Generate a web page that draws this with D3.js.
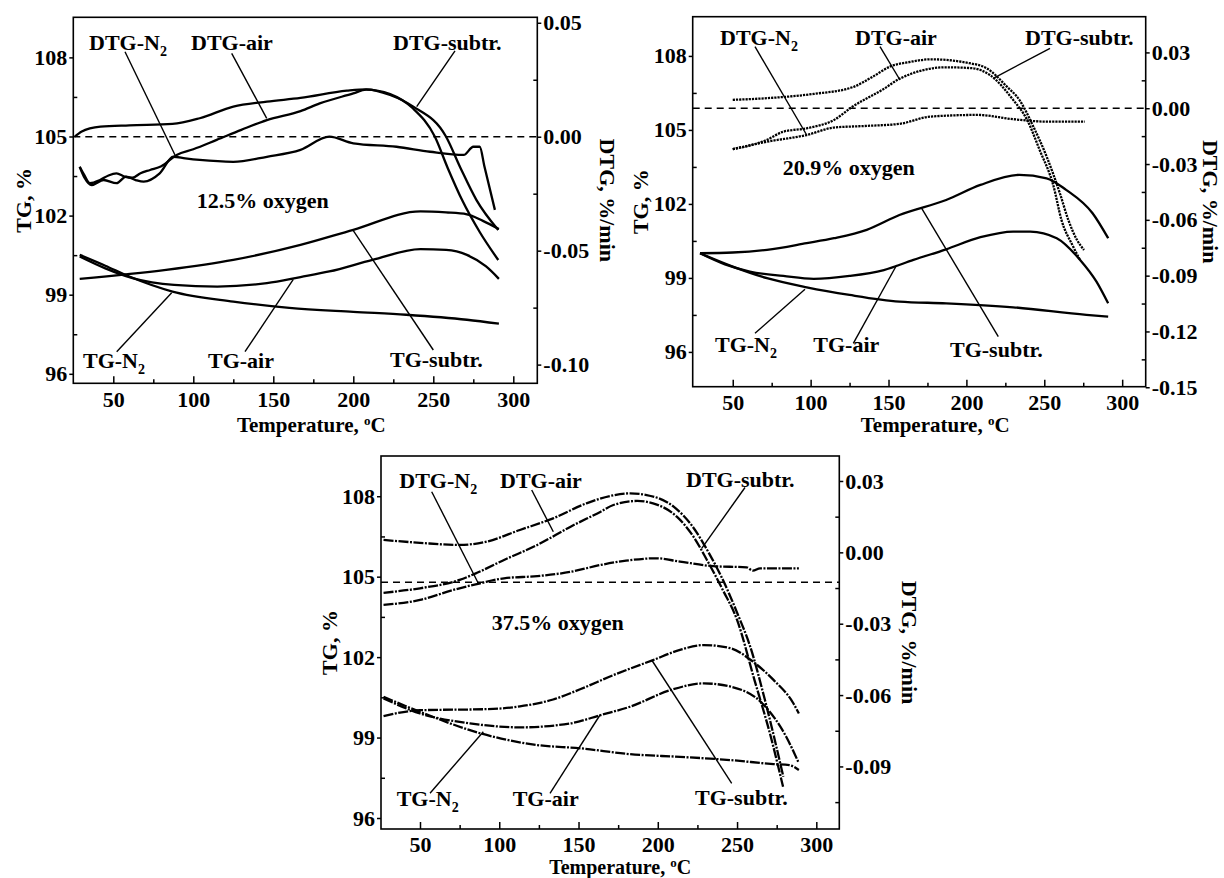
<!DOCTYPE html>
<html>
<head>
<meta charset="utf-8">
<script src="https://cdn.jsdelivr.net/npm/d3@7"></script>
<style>
  body { margin: 0; background: #fff; }
  svg text { font-family: "Liberation Serif", "Times New Roman", serif; font-weight: bold; fill: #000; font-size: 22px; }
</style>
</head>
<body>
<svg id="chart" width="1224" height="878"></svg>
<script>
// ---- data, [temperature °C, value] ----
// 12.5% oxygen
var tgN2_125  = [[29,100.51],[45,100.1],[60,99.69],[87,99.12],[125,98.74],[160,98.5],[200,98.35],[233,98.24],[271,98.05],[291,97.9]];
var tgAir_125 = [[29,100.45],[45,100.0],[62,99.63],[88,99.37],[115,99.31],[146,99.44],[167,99.67],[185,99.88],[212,100.32],[242,100.73],[258,100.7],[271,100.51],[283,100.07],[291,99.6]];
var tgSub_125 = [[29,99.6],[83,99.94],[125,100.32],[167,100.89],[200,101.46],[242,102.16],[258,102.12],[271,102.05],[281,101.8],[291,101.49]];
var dtgN2_125  = [[29,-0.0132],[32,-0.018],[36.5,-0.0212],[44,-0.019],[52,-0.0204],[58,-0.0175],[64,-0.019],[69,-0.0197],[79,-0.0161],[87.5,-0.0088],[95,-0.0095],[104,-0.0102],[125,-0.011],[146,-0.0088],[167,-0.0058],[185,0],[200,-0.0029],[227,-0.0044],[248,-0.0066],[269,-0.008],[275,-0.0044],[279,-0.0044],[282,-0.0132],[288.5,-0.0321]];
var dtgAir_125 = [[29,-0.0132],[32,-0.017],[35.4,-0.0204],[41.7,-0.019],[47,-0.017],[52,-0.0161],[57,-0.0175],[62,-0.018],[67,-0.016],[73,-0.0146],[80,-0.013],[89.6,-0.008],[100,-0.0055],[114.6,-0.0014],[130,0.003],[146,0.0073],[167,0.0112],[179,0.0146],[200,0.019],[208,0.0207],[223,0.0187],[237,0.0126],[251,0],[259,-0.0137],[268,-0.0278],[279,-0.0418],[290.6,-0.0541]];
var dtgSub_125 = [[26,0],[30,0.0022],[42,0.0044],[60,0.005],[87,0.0056],[104,0.0081],[125,0.0132],[146,0.0154],[167,0.017],[196,0.0202],[208,0.0208],[223,0.0183],[237.5,0.0132],[258,0],[267,-0.0137],[277,-0.0278],[290.6,-0.0409]];

// 20.9% oxygen
var tgN2_209  = [[29,100],[50,99.46],[72,98.99],[97.5,98.62],[125,98.31],[157,98.04],[187,97.97],[230,97.81],[277,97.5],[291,97.43]];
var tgAir_209 = [[29,100],[45,99.55],[61,99.26],[82.5,99.08],[102,98.96],[125,99.08],[147,99.32],[166,99.73],[187,100.16],[209,100.65],[230,100.88],[241,100.88],[258,100.61],[273,99.73],[283.5,98.85],[291,97.97]];
var tgSub_209 = [[29,100],[50,100.03],[72,100.14],[97.5,100.41],[115,100.61],[136,100.95],[157,101.55],[187,102.16],[209,102.77],[234,103.18],[251.5,103.04],[264,102.57],[281,101.62],[291,100.61]];
var dtgN2_209  = [[50,-0.022],[72,-0.018],[97.5,-0.0144],[115,-0.0104],[136,-0.0095],[157,-0.0084],[177,-0.0045],[207,-0.0036],[230,-0.0059],[251.5,-0.0072],[276,-0.0072]];
var dtgAir_209 = [[50,-0.022],[72,-0.017],[82.5,-0.0126],[97.5,-0.0108],[115,-0.0063],[127,0.0009],[147,0.0104],[157,0.0158],[187,0.022],[204,0.0215],[215,0.0179],[230,0.0045],[239,-0.0063],[247,-0.0224],[256,-0.0421],[261,-0.06],[268,-0.0735],[273,-0.0816]];
var dtgSub_209 = [[50,0.0045],[72,0.0054],[102,0.0077],[127,0.0113],[140,0.017],[151,0.0224],[164,0.0249],[177,0.0263],[202,0.0242],[213,0.0215],[226,0.0116],[234,0.0045],[243,-0.0099],[251.5,-0.026],[260,-0.0457],[265.4,-0.06],[271,-0.0708],[275.5,-0.0762]];

// 37.5% oxygen
var tgN2_375  = [[27,100.52],[50,99.96],[88,99.16],[124,98.72],[151,98.6],[182.5,98.38],[214,98.28],[246,98.16],[273,98.01],[283,97.97],[289,97.79]];
var tgAir_375 = [[27,100.46],[50,99.9],[81.5,99.53],[113,99.38],[145,99.53],[164,99.84],[182.5,100.15],[208,100.77],[229,101.02],[246,100.9],[267,100.21],[281,99.03],[289,98.04]];
var tgSub_375 = [[27,99.8],[50,100.02],[92,100.06],[113,100.16],[134,100.42],[151,100.8],[172,101.33],[197,101.89],[214,102.27],[229,102.45],[246,102.33],[260,101.83],[273,101.15],[285.5,100.28],[289,99.9]];
var dtgN2_375  = [[27,-0.0221],[50,-0.02],[71,-0.0158],[88,-0.013],[103,-0.0109],[124,-0.01],[145,-0.0082],[164,-0.0053],[180,-0.0035],[199,-0.0025],[214,-0.0039],[235,-0.0058],[256,-0.0063],[260,-0.0077],[264.5,-0.0067],[289,-0.0067]];
var dtgAir_375 = [[27,-0.017],[50,-0.0151],[75,-0.0116],[86,-0.0086],[103,-0.0032],[124,0.0031],[145,0.0108],[164,0.0171],[172,0.0199],[187,0.0216],[197,0.0206],[212,0.015],[222.5,0.0066],[231,-0.0032],[241,-0.0158],[250,-0.0284],[261,-0.0537],[271,-0.0768],[279,-0.0985]];
var dtgSub_375 = [[27,0.0052],[50,0.004],[75,0.0031],[92,0.0045],[113,0.0094],[134,0.0143],[155,0.0206],[170,0.0237],[182.5,0.0248],[193,0.0241],[210,0.0192],[222,0.0108],[232,0],[240.5,-0.0108],[250.6,-0.0263],[258,-0.039],[267.6,-0.0621],[279.2,-0.0943]];

// ticks
var tempTicks = [50, 100, 150, 200, 250, 300];
var tempMinor = [75, 125, 175, 225, 275];
var tgTicks = [96, 99, 102, 105, 108];
var tgMinor = [97.5, 100.5, 103.5, 106.5];
var dtgTicks_125 = [0.05, 0, -0.05, -0.10];
var dtgMinor_125 = [0.025, -0.025, -0.075];
var dtgTicks_209 = [0.03, 0, -0.03, -0.06, -0.09, -0.12, -0.15];
var dtgMinor_209 = [0.015, -0.015, -0.045, -0.075, -0.105, -0.135];
var dtgTicks_375 = [0.03, 0, -0.03, -0.06, -0.09];
var dtgMinor_375 = [0.015, -0.015, -0.045, -0.075, -0.105];

var svg = d3.select("#chart");

function addLabel(g, txt, sub, x, y) {
    var t = g.append("text").attr("x", x).attr("y", y).text(txt);
    if (sub) {
        t.append("tspan").attr("dy", 6).style("font-size", "14px").text(sub);
    }
}

function drawPanel(cfg) {
    var g = svg.append("g")
        .attr("transform", "translate(" + cfg.left + "," + cfg.top + ")");

    var x = d3.scaleLinear().domain(cfg.tempDomain).range([0, cfg.width]);
    var yTG = d3.scaleLinear().domain(cfg.tgDomain).range([cfg.height, 0]);
    var yDTG = d3.scaleLinear().domain(cfg.dtgDomain).range([cfg.height, 0]);

    // axes: major ticks outside on y, everything inside on x
    var ax = [];
    ax.push(g.append("g").call(d3.axisLeft(yTG).tickValues(tgTicks).tickSize(4).tickPadding(2).tickFormat(d3.format("d"))));
    ax.push(g.append("g").call(d3.axisLeft(yTG).tickValues(tgMinor).tickSize(-4).tickFormat("")));
    ax.push(g.append("g").attr("transform", "translate(" + cfg.width + ",0)")
        .call(d3.axisRight(yDTG).tickValues(cfg.dtgTicks).tickSize(4).tickPadding(2)
            .tickFormat(function (v) { return v.toFixed(2); })));
    ax.push(g.append("g").attr("transform", "translate(" + cfg.width + ",0)")
        .call(d3.axisRight(yDTG).tickValues(cfg.dtgMinor).tickSize(-4).tickFormat("")));
    ax.push(g.append("g").attr("transform", "translate(0," + cfg.height + ")")
        .call(d3.axisBottom(x).tickValues(tempTicks).tickSize(-7).tickPadding(7.8)));
    ax.push(g.append("g").attr("transform", "translate(0," + cfg.height + ")")
        .call(d3.axisBottom(x).tickValues(tempMinor).tickSize(-4).tickFormat("")));
    ax.forEach(function (a) {
        a.select(".domain").remove();
        a.selectAll(".tick line").attr("stroke-width", 1.5);
    });

    // frame
    g.append("rect")
        .attr("width", cfg.width).attr("height", cfg.height)
        .attr("fill", "none").attr("stroke", "#000").attr("stroke-width", 1.6);

    // dashed reference line
    g.append("line")
        .attr("x1", 0).attr("x2", cfg.width)
        .attr("y1", yDTG(cfg.refLine)).attr("y2", yDTG(cfg.refLine))
        .attr("stroke", "#000").attr("stroke-width", 1.5).attr("stroke-dasharray", "7,5");

    var tgLine = d3.line().x(function (d) { return x(d[0]); }).y(function (d) { return yTG(d[1]); }).curve(d3.curveMonotoneX);
    var dtgLine = d3.line().x(function (d) { return x(d[0]); }).y(function (d) { return yDTG(d[1]); }).curve(d3.curveMonotoneX);

    cfg.tg.forEach(function (s) {
        g.append("path").datum(s).attr("d", tgLine)
            .attr("fill", "none").attr("stroke", "#000").attr("stroke-width", 2.3)
            .attr("stroke-dasharray", cfg.tgDash);
    });
    cfg.dtg.forEach(function (s) {
        g.append("path").datum(s).attr("d", dtgLine)
            .attr("fill", "none").attr("stroke", "#000").attr("stroke-width", 2.3)
            .attr("stroke-dasharray", cfg.dtgDash);
    });

    // labels with leader lines
    cfg.notes.forEach(function (n) {
        addLabel(g, n.text, n.sub, n.lx, n.ly);
        g.append("line")
            .attr("x1", n.a[0]).attr("y1", n.a[1]).attr("x2", n.b[0]).attr("y2", n.b[1])
            .attr("stroke", "#000").attr("stroke-width", 1.4);
    });
    addLabel(g, cfg.oxygen, null, cfg.oxPos[0], cfg.oxPos[1]);

    // axis titles
    g.append("text").attr("text-anchor", "middle")
        .attr("transform", "translate(" + cfg.tgTitleX + "," + (cfg.height / 2) + ") rotate(-90)")
        .text("TG, %");
    g.append("text").attr("text-anchor", "middle")
        .attr("transform", "translate(" + (cfg.width + cfg.dtgTitleX) + "," + (cfg.height / 2) + ") rotate(90)")
        .text("DTG, %/min");
    var tt = g.append("text").attr("text-anchor", "middle")
        .attr("x", cfg.width / 2 + cfg.tempTitleDX).attr("y", cfg.height + cfg.tempTitleY)
        .style("font-size", cfg.tempTitleSize)
        .text("Temperature, ");
    tt.append("tspan").attr("dy", -7).style("font-size", "13px").text("o");
    tt.append("tspan").attr("dy", 7).text("C");
}

drawPanel({
    left: 73.3, top: 17.3, width: 464, height: 366,
    tempDomain: [25, 315], tgDomain: [95.64, 109.52], dtgDomain: [-0.1082, 0.0524],
    dtgTicks: dtgTicks_125, dtgMinor: dtgMinor_125, refLine: 0,
    tg: [tgN2_125, tgAir_125, tgSub_125], dtg: [dtgN2_125, dtgAir_125, dtgSub_125],
    tgDash: null, dtgDash: null,
    oxygen: "12.5% oxygen", oxPos: [123.4, 190.7],
    tgTitleX: -42.3, dtgTitleX: 62.7, tempTitleY: 48.7, tempTitleDX: 6, tempTitleSize: "21px",
    notes: [
        { text: "DTG-N", sub: "2", lx: 15.7, ly: 32.7, a: [51.7, 34.4], b: [101.7, 137.7] },
        { text: "DTG-air", lx: 117.7, ly: 32.7, a: [158.4, 36], b: [193.4, 101] },
        { text: "DTG-subtr.", lx: 319.7, ly: 32.7, a: [381.7, 33.5], b: [343.4, 89.4] },
        { text: "TG-N", sub: "2", lx: 9.7, ly: 350.7, a: [43.4, 334.4], b: [98.4, 275.4] },
        { text: "TG-air", lx: 134.7, ly: 350.7, a: [171.7, 334.4], b: [220, 262] },
        { text: "TG-subtr.", lx: 316.7, ly: 349.4, a: [360, 332.7], b: [280, 213.4] }
    ]
});

drawPanel({
    left: 692.7, top: 16.7, width: 453, height: 370,
    tempDomain: [24.3, 315.1], tgDomain: [94.59, 109.59], dtgDomain: [-0.1497, 0.0492],
    dtgTicks: dtgTicks_209, dtgMinor: dtgMinor_209, refLine: 0,
    tg: [tgN2_209, tgAir_209, tgSub_209], dtg: [dtgN2_209, dtgAir_209, dtgSub_209],
    tgDash: null, dtgDash: "2.2,1",
    oxygen: "20.9% oxygen", oxPos: [90, 158.3],
    tgTitleX: -44.7, dtgTitleX: 57, tempTitleY: 45.3, tempTitleDX: 16, tempTitleSize: "21px",
    notes: [
        { text: "DTG-N", sub: "2", lx: 27.3, ly: 28.3, a: [62.3, 30], b: [114, 118.3] },
        { text: "DTG-air", lx: 162.3, ly: 28.3, a: [187.3, 30], b: [207.3, 63.3] },
        { text: "DTG-subtr.", lx: 332.3, ly: 28.3, a: [357.3, 31.6], b: [300.6, 61.6] },
        { text: "TG-N", sub: "2", lx: 22.3, ly: 335, a: [62.3, 316.6], b: [112.3, 272.6] },
        { text: "TG-air", lx: 120.6, ly: 335, a: [160.6, 326.6], b: [204, 248.3] },
        { text: "TG-subtr.", lx: 257.3, ly: 340, a: [305.6, 320], b: [229, 191.6] }
    ]
});

drawPanel({
    left: 381, top: 456, width: 458.3, height: 373,
    tempDomain: [25.4, 314.5], tgDomain: [95.59, 109.5], dtgDomain: [-0.1163, 0.0405],
    dtgTicks: dtgTicks_375, dtgMinor: dtgMinor_375, refLine: -0.0126,
    tg: [tgN2_375, tgAir_375, tgSub_375], dtg: [dtgN2_375, dtgAir_375, dtgSub_375],
    tgDash: "10,1.5,2,1.5", dtgDash: "10,1.5,2,1.5",
    oxygen: "37.5% oxygen", oxPos: [110.7, 174],
    tgTitleX: -44, dtgTitleX: 62.7, tempTitleY: 45, tempTitleDX: 10, tempTitleSize: "20px",
    notes: [
        { text: "DTG-N", sub: "2", lx: 18.3, ly: 32.3, a: [50.7, 35.7], b: [97.3, 127.3] },
        { text: "DTG-air", lx: 119, ly: 32.3, a: [150.7, 34], b: [172.3, 75.7] },
        { text: "DTG-subtr.", lx: 305, ly: 30.7, a: [364, 31.5], b: [320.7, 92.3] },
        { text: "TG-N", sub: "2", lx: 15.7, ly: 350, a: [49, 337.3], b: [102.3, 275.7] },
        { text: "TG-air", lx: 131.7, ly: 350, a: [169, 337.3], b: [219, 259] },
        { text: "TG-subtr.", lx: 314, ly: 349, a: [350.7, 327.3], b: [270.7, 204] }
    ]
});
</script>
</body>
</html>
